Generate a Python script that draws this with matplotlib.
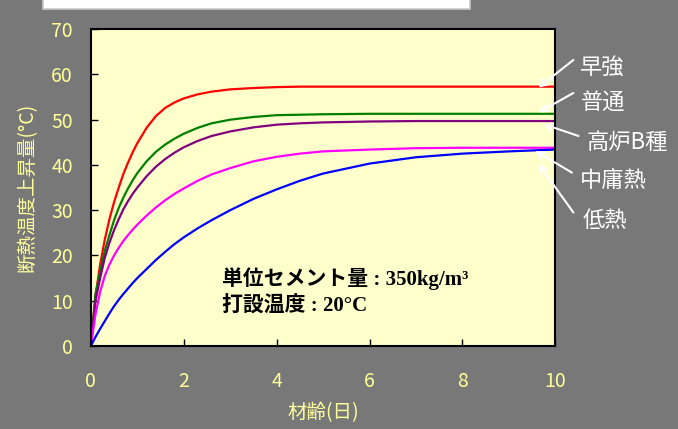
import matplotlib.pyplot as plt
from matplotlib.patches import Rectangle

plt.rcParams['font.family'] = ['Noto Sans CJK JP', 'DejaVu Sans']

# material age (days)
days = [0, 0.1, 0.2, 0.3, 0.4, 0.5, 0.6, 0.7, 0.8, 0.9, 1.0, 1.2, 1.4, 1.6, 1.8,
        2.0, 2.3, 2.6, 3.0, 3.5, 4, 4.5, 5, 6, 7, 8, 9, 10]

# adiabatic temperature rise (°C) per cement type
early_strength = [0, 11, 18, 23.5, 28, 31.8, 35, 38, 40.5, 42.8, 44.8, 48.2, 50.8, 52.6, 53.8,
                  54.7, 55.6, 56.2, 56.7, 57.0, 57.2, 57.3, 57.3, 57.3, 57.3, 57.3, 57.3, 57.3]
normal = [0, 11.5, 16.5, 21, 24.5, 27.8, 30.5, 32.8, 34.8, 36.6, 38.2, 40.8, 42.9, 44.5, 45.8,
          46.9, 48.2, 49.2, 50.0, 50.6, 51.0, 51.1, 51.2, 51.3, 51.3, 51.3, 51.3, 51.3]
blast_furnace_b = [0, 10, 15, 19.5, 22.8, 25.6, 28, 30.2, 32, 33.6, 35, 37.5, 39.6, 41.3, 42.7,
                   43.9, 45.3, 46.4, 47.4, 48.3, 48.9, 49.2, 49.4, 49.6, 49.7, 49.7, 49.7, 49.7]
moderate_heat = [0, 7, 12, 15.5, 18, 20, 21.7, 23.2, 24.5, 25.7, 26.8, 28.8, 30.6, 32.2, 33.6,
                 34.8, 36.5, 37.9, 39.3, 40.8, 41.8, 42.5, 43.0, 43.4, 43.7, 43.8, 43.8, 43.8]
low_heat = [0, 2, 3.8, 5.5, 7.2, 8.8, 10.2, 11.5, 12.7, 13.9, 15, 17, 19, 20.8, 22.5,
            24, 26, 27.8, 30, 32.5, 34.6, 36.5, 38.1, 40.3, 41.7, 42.5, 43.0, 43.4]

series = [
    ('早強', early_strength, '#FF0000'),
    ('普通', normal, '#008000'),
    ('高炉B種', blast_furnace_b, '#800080'),
    ('中庸熱', moderate_heat, '#FF00FF'),
    ('低熱', low_heat, '#0000FF'),
]

bg = '#787878'
label_col = '#FFFF99'

fig = plt.figure(figsize=(6.78, 4.29), dpi=100, facecolor=bg)
ax = fig.add_axes([0.134, 0.1935, 0.685, 0.7385])
ax.set_facecolor('#FFFFCC')

for name, vals, col in series:
    ax.plot(days, vals, color=col, lw=1.6)

ax.set_xlim(0, 10)
ax.set_ylim(0, 70)
ax.set_xticks(range(0, 11, 2))
ax.set_yticks(range(0, 71, 10))
ax.tick_params(direction='in', length=5, width=1, colors='black',
               labelcolor=label_col, labelsize=14)
ax.tick_params(axis='x', pad=18)
ax.tick_params(axis='y', pad=13)
for s in ax.spines.values():
    s.set_linewidth(1.5)

ax.set_xlabel('材齢(日)', color=label_col, fontsize=14, labelpad=7)
ax.set_ylabel('断熱温度上昇量(°C)', color=label_col, fontsize=14, labelpad=10)

# condition note
note_font = ['Liberation Serif', 'Noto Sans CJK JP']
ax.text(2.82, 14.9, '単位セメント量 : 350kg/m³', fontsize=15, weight='bold',
        family=note_font, va='center')
ax.text(2.82, 8.6, '打設温度 : 20°C', fontsize=15, weight='bold',
        family=note_font, va='center')

# right-side labels with arrows
labels = [
    ('早強', (10.54, 61.5), (10.39, 63.2), (9.64, 57.1)),
    ('普通', (10.54, 53.9), (10.39, 55.9), (9.64, 51.6)),
    ('高炉B種', (10.68, 44.9), (10.50, 46.4), (9.75, 49.0)),
    ('中庸熱', (10.54, 36.5), (10.36, 38.3), (9.57, 43.1)),
    ('低熱', (10.58, 27.7), (10.39, 29.5), (9.64, 40.2)),
]
for txt, tpos, tail, tip in labels:
    ax.text(tpos[0], tpos[1], txt, color='white', fontsize=16,
            va='center', ha='left', clip_on=False)
    ax.annotate('', xy=tip, xytext=tail, annotation_clip=False,
                arrowprops=dict(arrowstyle='->', color='white', lw=1.5,
                                shrinkA=0, shrinkB=0, mutation_scale=12))

# clipped title box at the top
fig.patches.append(Rectangle((0.0634, 0.979), 0.63, 0.05, transform=fig.transFigure,
                             facecolor='white', edgecolor='#C8C8C8', lw=1.2))

fig.savefig('out.png', dpi=100, facecolor=bg)
